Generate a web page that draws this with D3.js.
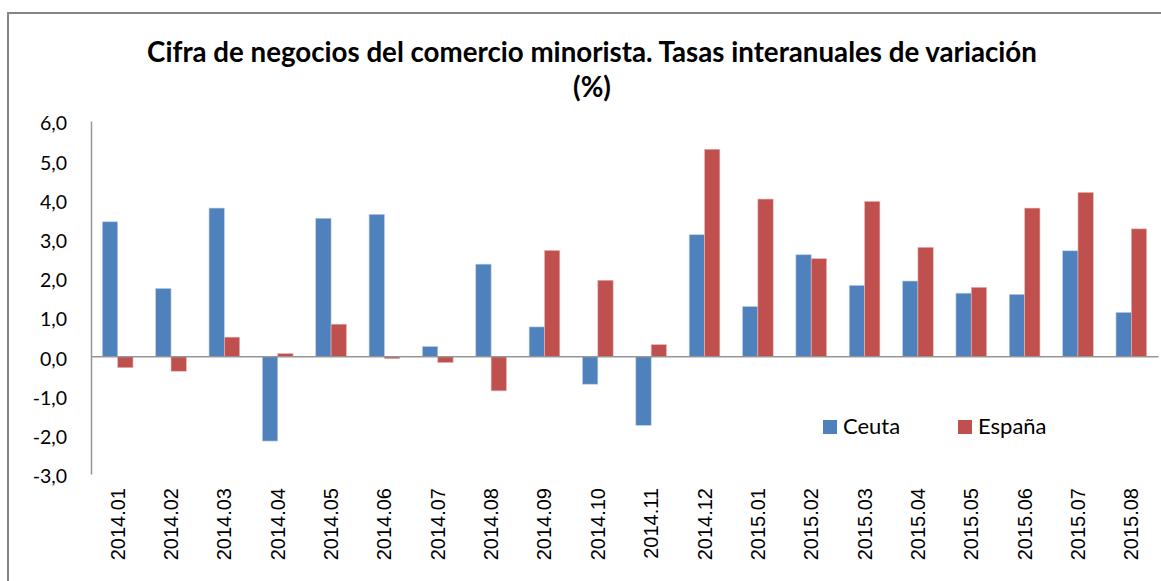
<!DOCTYPE html>
<html>
<head>
<meta charset="utf-8">
<script src="https://cdn.jsdelivr.net/npm/d3@7"></script>
<style>
  body { margin: 0; background: #fff; }
  svg { display: block; }
</style>
</head>
<body>
<div id="container"></div>
<script>
/* CONSTANTS AND GLOBALS */
const width = 1161;
const height = 581;

/* DATA */
const months = ["2014.01", "2014.02", "2014.03", "2014.04", "2014.05", "2014.06", "2014.07",
  "2014.08", "2014.09", "2014.10", "2014.11", "2014.12", "2015.01", "2015.02", "2015.03",
  "2015.04", "2015.05", "2015.06", "2015.07", "2015.08"];
const ceuta = [3.43, 1.73, 3.78, -2.16, 3.52, 3.62, 0.25, 2.35, 0.75, -0.71,
  -1.76, 3.10, 1.27, 2.59, 1.81, 1.92, 1.61, 1.58, 2.69, 1.12];
const espana = [-0.29, -0.38, 0.49, 0.07, 0.82, -0.06, -0.16, -0.88, 2.70, 1.94,
  0.30, 5.28, 4.01, 2.49, 3.95, 2.78, 1.76, 3.78, 4.18, 3.25];
const seriesNames = ["Ceuta", "España"];
const yTicks = [6, 5, 4, 3, 2, 1, 0, -1, -2, -3];

const rows = months.map((m, i) => ({ month: m, values: [ceuta[i], espana[i]] }));

/* SCALES */
const x0 = d3.scaleBand()
  .domain(months)
  .range([91, 1158])
  .padding(0);

const x1 = d3.scaleBand()
  .domain(seriesNames)
  .range([0, x0.bandwidth()])
  .paddingInner(0)
  .paddingOuter(0.74);

const yScale = d3.scaleLinear()
  .domain([-3, 6])
  .range([474, 121]);

const colorScale = d3.scaleOrdinal()
  .domain(seriesNames)
  .range(["#4F81BD", "#C0504D"]);

// spanish number format with plain hyphen minus
const esLocale = d3.formatLocale({ decimal: ",", thousands: ".", grouping: [3], currency: ["", "€"], minus: "-" });
const fmt = esLocale.format(".1f");

/* SVG */
const svg = d3.select("#container")
  .append("svg")
  .attr("width", width)
  .attr("height", height);

// chart frame
svg.append("rect")
  .attr("x", 8)
  .attr("y", 13)
  .attr("width", 1180)
  .attr("height", 600)
  .attr("fill", "none")
  .attr("stroke", "#868686")
  .attr("stroke-width", 2);

// title
const title = svg.append("text")
  .attr("text-anchor", "middle")
  .attr("font-family", "Lato, 'Open Sans', sans-serif")
  .attr("font-weight", "bold")
  .attr("font-size", 27.7)
  .attr("fill", "#000");
title.append("tspan")
  .attr("x", 592).attr("y", 62)
  .text("Cifra de negocios del comercio minorista. Tasas interanuales de variación");
title.append("tspan")
  .attr("x", 592).attr("y", 97)
  .text("(%)");

// bars
const groups = svg.selectAll("g.group")
  .data(rows)
  .join("g")
  .attr("class", "group")
  .attr("transform", d => `translate(${x0(d.month)},0)`);

groups.selectAll("rect")
  .data(d => d.values.map((v, i) => ({ key: seriesNames[i], value: v })))
  .join("rect")
  .attr("x", d => x1(d.key))
  .attr("width", x1.bandwidth())
  .attr("y", d => yScale(Math.max(0, d.value)))
  .attr("height", d => Math.abs(yScale(d.value) - yScale(0)))
  .attr("fill", d => colorScale(d.key))
  .attr("stroke", d => d.key === "Ceuta" ? "#b9cde5" : "#e6b9b8")
  .attr("stroke-width", 0.6);

// y-axis
const yAxis = d3.axisLeft(yScale)
  .tickValues(yTicks)
  .tickFormat(fmt)
  .tickSize(0)
  .tickPadding(24);

const yG = svg.append("g")
  .attr("class", "y-axis")
  .attr("transform", "translate(91,0)")
  .call(yAxis);
yG.select(".domain").attr("stroke", "#969696").attr("stroke-width", 1.5);
yG.selectAll("text")
  .attr("font-family", "Lato, 'Open Sans', sans-serif")
  .attr("font-size", 19.5)
  .attr("fill", "#000")
  .attr("dy", "0.45em");

// zero line / x-axis
const xAxis = d3.axisBottom(x0).tickSize(0).tickFormat(() => "");
const xG = svg.append("g")
  .attr("class", "x-axis")
  .attr("transform", `translate(0,${yScale(0)})`)
  .call(xAxis);
xG.select(".domain").attr("stroke", "#969696").attr("stroke-width", 1.5);

// category labels at bottom
svg.append("g")
  .selectAll("text")
  .data(months)
  .join("text")
  .attr("transform", d => `translate(${x0(d) + x0.bandwidth() / 2 + 7},488) rotate(-90)`)
  .attr("text-anchor", "end")
  .attr("font-family", "'Liberation Sans', Arial, sans-serif")
  .attr("font-size", 20)
  .attr("fill", "#000")
  .text(d => d);

// legend
const legendX = [823, 958];
const legend = svg.selectAll("g.legend")
  .data(seriesNames)
  .join("g")
  .attr("class", "legend")
  .attr("transform", (d, i) => `translate(${legendX[i]},420)`);
legend.append("rect")
  .attr("width", 14)
  .attr("height", 14)
  .attr("fill", d => colorScale(d));
legend.append("text")
  .attr("x", 20)
  .attr("y", 14)
  .attr("font-family", "Lato, 'Open Sans', sans-serif")
  .attr("font-size", 22)
  .attr("fill", "#000")
  .text(d => d);
</script>
</body>
</html>
